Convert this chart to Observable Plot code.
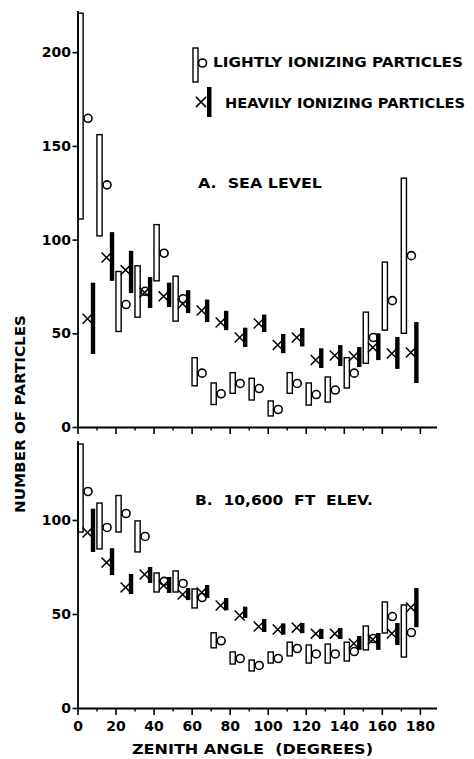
<!DOCTYPE html>
<html><head><meta charset="utf-8">
<script src="https://cdn.jsdelivr.net/npm/d3@7"></script>
<script src="https://cdn.jsdelivr.net/npm/@observablehq/plot@0.6"></script>
<style>
body{margin:0;background:#fff;}
#wrap{position:relative;width:474px;height:759px;overflow:hidden;background:#fff;}
#wrap > div > svg, #wrap > svg{display:block;}
#overlay{position:absolute;left:0;top:0;pointer-events:none;}
</style></head><body>
<div id="wrap"><div id="pa"></div><div id="pb"></div></div>
<script>
// Zenith-angle bin centres (degrees)
const angles = [5,15,25,35,45,55,65,75,85,95,105,115,125,135,145,155,165,175];

// A. Sea level — lightly ionizing particles (value, error low, error high)
const lightA   = [165,129.5,65.6,72.7,93,68.7,29,18,23.5,20.8,9.6,23.5,17.6,20,29,48,67.7,91.7];
const lightALo = [111,102,51,58.6,78,56.5,22,12,18,14.4,5.9,18,11.7,13.3,20.8,34,51.7,50];
const lightAHi = [220.8,156,83,86,108,80.5,37,23.5,29,26,13.9,29,23.5,26.7,37,61.3,88,132.8];
// A. Sea level — heavily ionizing particles
const heavyA   = [58,90.7,84,72,70,66,62.4,56,48,55.5,44,48,36,38.4,38,42.7,39.5,40];
const heavyALo = [39,78,71.5,63.5,64,60.8,56,51.7,42.7,50.7,39.4,43,31.5,32.5,32,35.7,31,23.5];
const heavyAHi = [77,104,94,80,77,73,68,62,53,60,49.6,52.8,42,43.7,42.7,50,48,56];

// B. 10,600 ft — lightly ionizing particles
const lightB   = [115.4,96.3,103.7,91.5,67.6,66.5,59,36,26.6,22.9,26.6,31.9,29,29,30.3,37.2,48.9,40.4];
const lightBLo = [93.6,84.6,93.6,83,61.7,61.7,53.2,32,23.4,19.7,23.9,27.7,23.9,23.9,25,30.9,39.9,27.1];
const lightBHi = [140.4,109,113,99.5,71.8,72.9,63.3,40,29.8,25.5,29.8,35,33.5,34,35,43.6,56.4,54.8];
// B. 10,600 ft — heavily ionizing particles
const heavyB   = [93.6,77.6,64.4,71.3,65.4,60.6,61.7,54.8,49.5,43.6,42,43,39.8,39.8,34.6,36.7,39.9,53.7];
const heavyBLo = [83,70.7,60.6,66.5,61.2,57.4,58.5,52,47.9,40.4,39,39.8,36.7,36.7,30.9,30.9,33.5,43];
const heavyBHi = [106,85,71.3,75,69.7,63.8,65.4,58.5,53.9,47.3,45,45.2,42,42.5,38.3,39.9,45.2,63.8];

// Axis ticks
const xMajor = [0,20,40,60,80,100,120,140,160,180];
const xMinor = [10,30,50,70,90,110,130,150,170];
const yTicksA = [0,50,100,150,200];
const yTicksB = [0,50,100];

// Text
const legendLight = "LIGHTLY IONIZING PARTICLES";
const legendHeavy = "HEAVILY IONIZING PARTICLES";
const panelA = "A.  SEA LEVEL";
const panelB = "B.  10,600  FT  ELEV.";
const yTitle = "NUMBER OF PARTICLES";
const xTitle = "ZENITH ANGLE  (DEGREES)";

const FONT = "'DejaVu Sans', sans-serif";

function panel({light, lightLo, lightHi, heavy, heavyLo, heavyHi, yMax, yTicks, height, marginTop, marginBottom, labels}) {
  const rows = angles.map((a, i) => ({a, l: light[i], ll: lightLo[i], lh: lightHi[i], h: heavy[i], hl: heavyLo[i], hh: heavyHi[i]}));
  return Plot.plot({
    width: 474, height, marginLeft: 77.5, marginRight: 37, marginTop, marginBottom,
    style: {fontFamily: FONT, fontSize: "14px", fontWeight: "bold", color: "black", background: "white", overflow: "visible"},
    x: {domain: [0, 189]},
    y: {domain: [0, yMax]},
    marks: [
      Plot.rect(rows, {x1: "a", x2: "a", y1: "ll", y2: "lh", insetLeft: -2.6, insetRight: -2.6, dx: -6.5, fill: "white", stroke: "black", strokeWidth: 1.4}),
      Plot.rect(rows, {x1: "a", x2: "a", y1: "hl", y2: "hh", insetLeft: -2.2, insetRight: -2.2, dx: 6, fill: "black"}),
      Plot.dot(rows, {x: "a", y: "l", r: 4, stroke: "black", strokeWidth: 1.6, fill: "none", dx: 0.5}),
      Plot.dot(rows, {x: "a", y: "h", symbol: "times", r: 4.6, stroke: "black", strokeWidth: 1.5}),
      Plot.ruleY([0], {stroke: "black", strokeWidth: 1.8}),
      Plot.ruleX([0], {stroke: "black", strokeWidth: 1.8}),
      Plot.axisY({ticks: yTicks, tickSize: 5, tickPadding: 2, label: null, strokeWidth: 1.6}),
      Plot.axisX({ticks: xMajor, tickSize: 7, tickPadding: 6, label: null, strokeWidth: 1.6,
        tickFormat: labels ? (d => String(d)) : (() => "")}),
      Plot.axisX({ticks: xMinor, tickSize: 3.5, label: null, strokeWidth: 1.4, tickFormat: () => ""})
    ]
  });
}

document.getElementById("pa").append(panel({
  light: lightA, lightLo: lightALo, lightHi: lightAHi,
  heavy: heavyA, heavyLo: heavyALo, heavyHi: heavyAHi,
  yMax: 222, yTicks: yTicksA, height: 435, marginTop: 11, marginBottom: 8, labels: false
}));
document.getElementById("pb").append(panel({
  light: lightB, lightLo: lightBLo, lightHi: lightBHi,
  heavy: heavyB, heavyLo: heavyBLo, heavyHi: heavyBHi,
  yMax: 142, yTicks: yTicksB, height: 324, marginTop: 6, marginBottom: 51, labels: true
}));

// Overlay: legend, panel titles, axis titles
const ov = d3.select("#wrap").append("svg").attr("id", "overlay")
  .attr("width", 474).attr("height", 759)
  .style("font-family", FONT).style("font-weight", "bold");

function txt(s, x, y, len, size, rot) {
  const t = ov.append("text").text(s)
    .attr("x", x).attr("y", y)
    .attr("dominant-baseline", "central")
    .attr("font-size", size)
    .attr("textLength", len).attr("lengthAdjust", "spacingAndGlyphs")
    .style("white-space", "pre");
  if (rot) t.attr("text-anchor", "middle").attr("transform", `rotate(-90 ${x} ${y})`);
  return t;
}
// legend swatches
ov.append("rect").attr("x", 193).attr("y", 48).attr("width", 5).attr("height", 34)
  .attr("fill", "white").attr("stroke", "black").attr("stroke-width", 1.4);
ov.append("circle").attr("cx", 202.5).attr("cy", 63).attr("r", 4)
  .attr("fill", "none").attr("stroke", "black").attr("stroke-width", 1.6);
ov.append("path").attr("d", d3.symbol(d3.symbolTimes, 70)())
  .attr("transform", "translate(201,102)").attr("fill", "none").attr("stroke", "black").attr("stroke-width", 1.5);
ov.append("rect").attr("x", 207).attr("y", 87).attr("width", 4.5).attr("height", 30).attr("fill", "black");

txt(legendLight, 213, 62, 250, 13.5);
txt(legendHeavy, 225, 103, 240, 13.5);
txt(panelA, 198, 183, 124, 13.5);
txt(panelB, 195, 500, 178, 13.5);
txt(yTitle, 20, 414, 198, 14, true);
txt(xTitle, 132, 749, 241, 13.5);
</script>
</body></html>
